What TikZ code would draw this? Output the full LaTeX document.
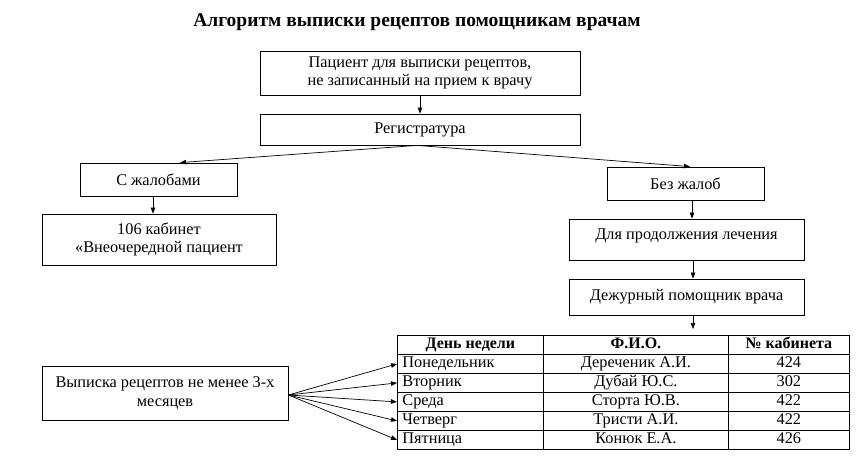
\documentclass[tikz,border=0pt]{standalone}
\usepackage{fontspec}
\setmainfont{Liberation Serif}
\usetikzlibrary{arrows.meta}
\tikzset{
  box/.style={draw, line width=0.8pt, inner sep=2pt, align=center, font=\fontsize{16.3}{18.5}\selectfont},
  cell/.style={draw, line width=0.8pt, inner sep=0pt, minimum height=19pt, text height=11.5pt, text depth=3.5pt, anchor=north west, font=\fontsize{16.3}{18}\selectfont},
  hcell/.style={cell, font=\fontsize{16}{18}\selectfont\bfseries},
  arr/.style={line width=0.7pt, -{Triangle[length=6pt,width=4.5pt]}},
}
\begin{document}
\begin{tikzpicture}[x=1pt,y=-1pt]
\useasboundingbox (0,0) rectangle (860,461);
\node[font=\fontsize{19.5}{22}\selectfont\bfseries] (title) at (417,22) {Алгоритм выписки рецептов помощникам врачам};
\node[box, minimum width=320pt, minimum height=44pt] (pac) at (420,73) {Пациент для выписки рецептов,\\не записанный на прием к врачу};
\node[box, minimum width=320pt, minimum height=31pt] (reg) at (420,129.5) {Регистратура};
\node[box, minimum width=157pt, minimum height=33pt] (zh) at (158.5,179.5) {С жалобами};
\node[box, minimum width=234pt, minimum height=51pt] (k106) at (159,239.5) {106 кабинет\\«Внеочередной пациент};
\node[box, minimum width=157pt, minimum height=33pt] (bez) at (685.5,183.5) {Без жалоб};
\node[box, minimum width=235pt, minimum height=41pt, text height=11pt, text depth=12pt] (dl) at (686.5,239.5) {Для продолжения лечения};
\node[box, minimum width=235pt, minimum height=36pt] (dezh) at (686.5,297) {Дежурный помощник врача};
\node[box, minimum width=246pt, minimum height=54pt] (vyp) at (165,393) {Выписка рецептов не менее 3-х\\месяцев};
% table
\node[hcell, minimum width=146pt] (h1) at (397,335) {День недели};
\node[hcell, minimum width=185pt] (h2) at (543,335) {Ф.И.О.};
\node[hcell, minimum width=121pt] (h3) at (728,335) {№ кабинета};
\foreach \i/\d/\n/\k in {1/Понедельник/Дереченик А.И./424, 2/Вторник/Дубай Ю.С./302, 3/Среда/Сторта Ю.В./422, 4/Четверг/Тристи А.И./422, 5/Пятница/Конюк Е.А./426}{
  \node[cell, text width=136pt, inner xsep=5pt, align=left] (d\i) at (397,{335+19*\i}) {\d};
  \node[cell, minimum width=185pt] (n\i) at (543,{335+19*\i}) {\n};
  \node[cell, minimum width=121pt] (k\i) at (728,{335+19*\i}) {\k};
}
\coordinate (tabin) at (693,329);
% arrows
\draw[arr] (pac.south) -- (reg.north);
\draw[arr] ([xshift=-3pt]reg.south) -- ([xshift=21.5pt]zh.north);
\draw[arr] ([xshift=-3pt]reg.south) -- ([xshift=4.5pt]bez.north);
\draw[arr] ([xshift=-5.5pt]zh.south) -- ([xshift=-6pt]k106.north);
\draw[arr] ([xshift=6.5pt]bez.south) -- ([xshift=5.5pt]dl.north);
\draw[arr] ([xshift=6.5pt]dl.south) -- ([xshift=6.5pt]dezh.north);
\draw[arr] ([xshift=6.5pt]dezh.south) -- (tabin);
\foreach \i in {1,...,5}{
  \draw[arr] ([yshift=-2pt]vyp.east) -- (d\i.west);
}
\end{tikzpicture}
\end{document}
